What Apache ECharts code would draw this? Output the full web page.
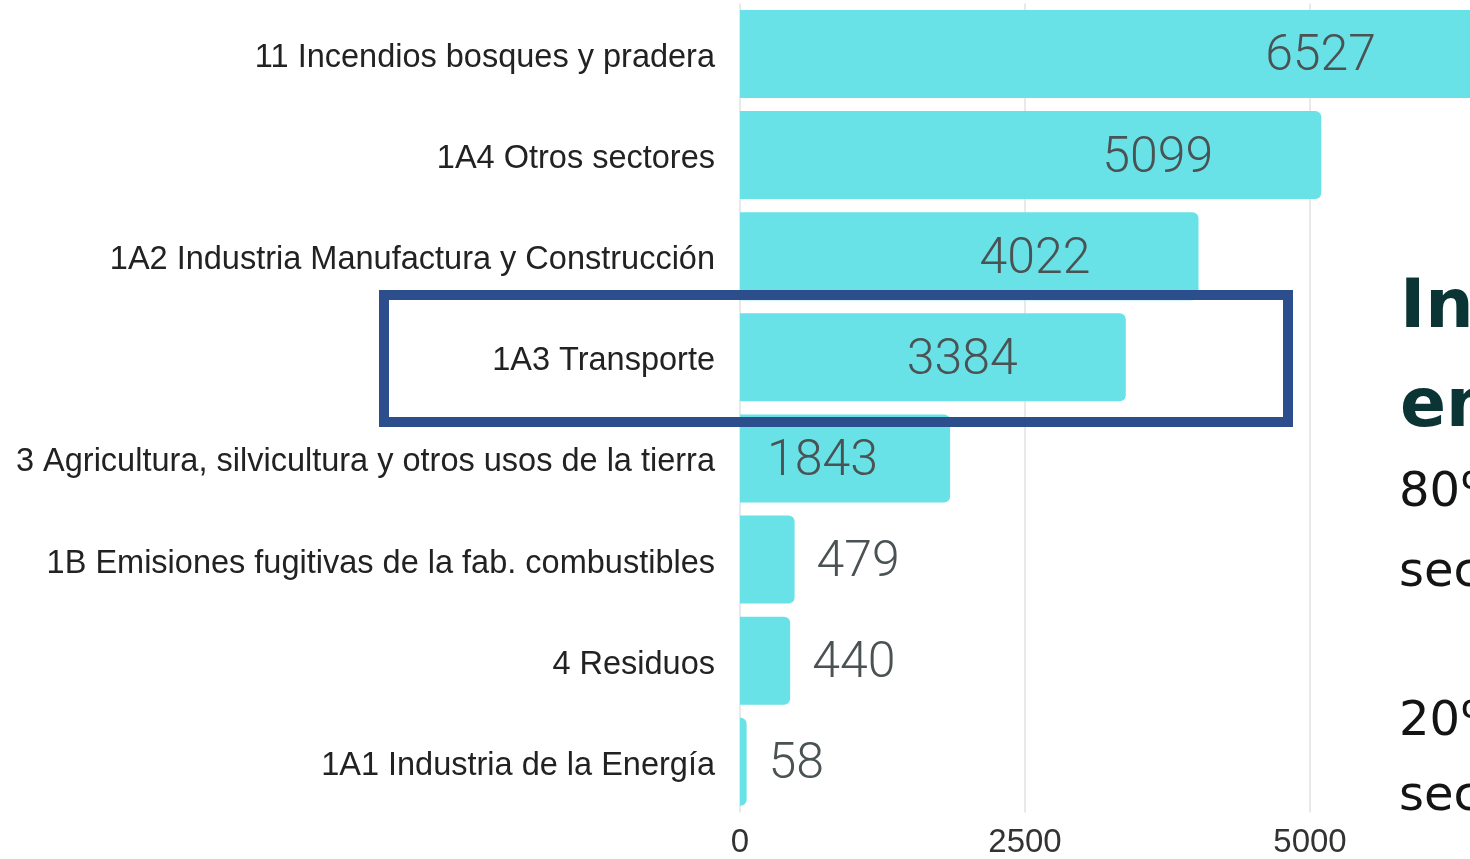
<!DOCTYPE html>
<html>
<head>
<meta charset="utf-8">
<style>
  html, body { margin: 0; padding: 0; background: #fff; }
  #main { width: 1470px; height: 859px; }
</style>
<script src="https://cdn.jsdelivr.net/npm/echarts@6/dist/echarts.min.js"></script>
</head>
<body>
<div id="main"></div>
<script>
var chartDom = document.getElementById('main');
var myChart = echarts.init(chartDom);
var option;

// categories, top to bottom
const sectors = [
  '11 Incendios bosques y pradera',
  '1A4 Otros sectores',
  '1A2 Industria Manufactura y Construcción',
  '1A3 Transporte',
  '3 Agricultura, silvicultura y otros usos de la tierra',
  '1B Emisiones fugitivas de la fab. combustibles',
  '4 Residuos',
  '1A1 Industria de la Energía'
];
const emissions = [6527, 5099, 4022, 3384, 1843, 479, 440, 58];
const xTicks = [0, 2500, 5000, 7500];

// text of the neighbouring slide block, cut by the right edge
const sideTitle = ['Inventario', 'emisiones'];
const sideLines = ['80% de', 'sectores', '20% de', 'sectores'];

const barColor = '#69e2e7';
const labelColor = '#4b5254';
const frameColor = '#2d4e8c';

function labelFor(v) {
  if (v >= 3000) {
    return { position: 'insideRight', distance: 108 };
  }
  if (v >= 1000) {
    return { position: 'insideLeft', distance: 27 };
  }
  return { position: 'right', distance: 22 };
}

const barData = emissions.map(function (v) {
  return { value: v, label: labelFor(v) };
});

const textEls = [];
const titleY = [309, 408];
sideTitle.forEach(function (t, i) {
  textEls.push({
    type: 'text',
    x: 1400,
    y: titleY[i],
    style: {
      text: t,
      font: 'bold 68px "DejaVu Sans", sans-serif',
      fill: '#0b3535',
      verticalAlign: 'middle'
    }
  });
});
const lineY = [494, 574, 723, 798];
sideLines.forEach(function (t, i) {
  textEls.push({
    type: 'text',
    x: 1399,
    y: lineY[i],
    style: {
      text: t,
      font: '48px "DejaVu Sans", sans-serif',
      fill: '#141414',
      verticalAlign: 'middle'
    }
  });
});
// highlight frame around the transport row
textEls.push({
  type: 'rect',
  shape: { x: 384, y: 295, width: 904, height: 127 },
  style: { fill: 'none', stroke: frameColor, lineWidth: 10 },
  z: 100
});

option = {
  backgroundColor: '#ffffff',
  animation: false,
  grid: {
    left: 740,
    top: 3.4,
    width: 855,
    height: 809,
    outerBoundsMode: 'none'
  },
  xAxis: {
    type: 'value',
    min: xTicks[0],
    max: xTicks[xTicks.length - 1],
    interval: 2500,
    axisLine: { show: false },
    axisTick: { show: false },
    axisLabel: {
      margin: 14,
      fontSize: 33,
      fontFamily: '"Liberation Sans", Arial, sans-serif',
      color: '#333',
      formatter: function (v) { return String(v); }
    },
    splitLine: { lineStyle: { color: '#e2e2e2', width: 1.5 } }
  },
  yAxis: {
    type: 'category',
    inverse: true,
    data: sectors,
    axisLine: { show: false },
    axisTick: { show: false },
    axisLabel: {
      margin: 25,
      formatter: function (v) { return '{c|' + v + '}'; },
      rich: {
        c: {
          padding: [8, 0, 0, 0],
          fontSize: 32.5,
          fontFamily: '"Liberation Sans", Arial, sans-serif',
          color: '#222'
        }
      }
    }
  },
  series: [
    {
      type: 'bar',
      data: barData,
      barWidth: 88,
      itemStyle: {
        color: barColor,
        borderRadius: [0, 6, 6, 0]
      },
      label: {
        show: true,
        offset: [0, 4],
        fontSize: 50,
        fontWeight: 300,
        fontFamily: 'Roboto, sans-serif',
        color: labelColor
      }
    }
  ],
  graphic: textEls
};

option && myChart.setOption(option);
</script>
</body>
</html>
